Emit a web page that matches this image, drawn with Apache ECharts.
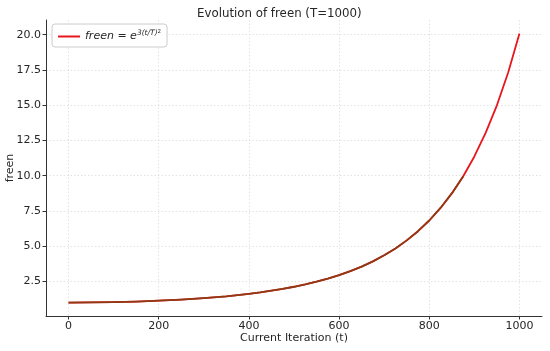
<!DOCTYPE html>
<html><head><meta charset="utf-8">
<script src="https://cdn.jsdelivr.net/npm/echarts@6/dist/echarts.min.js"></script>
<style>html,body{margin:0;padding:0;background:#fff}#c{width:550px;height:351px}</style>
</head><body><div id="c"></div>
<script>
// Data
const iterations = [0,50,100,150,200,250,300,350,400,425,450,475,500,525,550,575,600,625,650,675,700,725,750,775,800,825,850,875,900,925,950,975,1000];
const freenValues = [1.00,1.01,1.03,1.07,1.13,1.21,1.31,1.44,1.62,1.72,1.84,1.97,2.12,2.29,2.48,2.70,2.95,3.23,3.55,3.92,4.35,4.84,5.41,6.06,6.82,7.71,8.74,9.94,11.36,13.03,14.99,17.32,20.09];
const overlayEndIndex = 27; // brown overlay runs up to t≈875
const xTicks = [0,200,400,600,800,1000];
const yTicks = [2.5,5.0,7.5,10.0,12.5,15.0,17.5,20.0];
const titleText = 'Evolution of freen (T=1000)';
const xLabel = 'Current Iteration (t)';
const yLabel = 'freen';

const mainData = iterations.map((t,i)=>[t,freenValues[i]]);
const overlayData = mainData.slice(0, overlayEndIndex+1);
const FONT = 'DejaVu Sans';
const TXT = '#262626';

const chart = echarts.init(document.getElementById('c'), null, {renderer:'canvas'});
const gridLine = {show:true, lineStyle:{color:'#dcdcdc', type:[1.5,2], width:0.8}};
chart.setOption({
  animation:false,
  textStyle:{fontFamily:FONT},
  title:{text:titleText, left:192, top:3, textStyle:{fontFamily:FONT, fontSize:11.8, fontWeight:'normal', color:TXT}},
  grid:{left:46, right:8, top:20, bottom:35, containLabel:false, outerBoundsMode:'none'},
  legend:{
    left:52, top:24, orient:'vertical',
    padding:[5,6,5,6],
    itemWidth:22, itemHeight:2, itemGap:2,
    borderColor:'#cccccc', borderWidth:1, borderRadius:3, backgroundColor:'rgba(255,255,255,0.8)',
    data:[{name:'main', icon:'rect'}],
    formatter: () => '{i|freen} {n|=} {i|e}{s|3(t/T)}{ss|2}',
    textStyle:{fontFamily:FONT, color:TXT, fontSize:11,
      rich:{
        i:{fontStyle:'italic', fontSize:11, fontFamily:FONT, color:TXT},
        n:{fontSize:11, fontFamily:FONT, color:TXT},
        s:{fontStyle:'italic', fontSize:7.5, fontFamily:FONT, color:TXT, verticalAlign:'top', padding:[0,0,6,0]},
        ss:{fontSize:5.5, fontFamily:FONT, color:TXT, verticalAlign:'top', padding:[0,0,9,0]}
      }}
  },
  xAxis:{
    type:'value', min:-50, max:1050,
    name:xLabel, nameLocation:'middle', nameGap:17, nameMoveOverlap:false,
    nameTextStyle:{fontFamily:FONT, fontSize:11, color:TXT},
    axisLine:{show:true, onZero:false, lineStyle:{color:'#333', width:1}},
    axisTick:{show:true, length:3.5, customValues:xTicks, lineStyle:{color:'#333'}},
    axisLabel:{customValues:xTicks, fontFamily:FONT, fontSize:11, color:TXT, margin:5, formatter:v=>String(v)},
    splitLine:gridLine
  },
  yAxis:{
    type:'value', min:0.046, max:21.04,
    name:yLabel, nameLocation:'middle', nameGap:30, nameRotate:90, nameMoveOverlap:false,
    nameTextStyle:{fontFamily:FONT, fontSize:11, color:TXT},
    axisLine:{show:true, onZero:false, lineStyle:{color:'#333', width:1}},
    axisTick:{show:true, length:3.5, customValues:yTicks, lineStyle:{color:'#333'}},
    axisLabel:{customValues:yTicks, fontFamily:FONT, fontSize:11, color:TXT, margin:5, formatter:v=>v.toFixed(1)},
    splitLine:gridLine
  },
  series:[
    {name:'main', type:'line', data:mainData, smooth:false, showSymbol:false, color:'#e8161c',
     lineStyle:{color:'#e8161c', width:1.8, join:'round'}, z:3},
    {name:'overlay', type:'line', data:overlayData, smooth:false, showSymbol:false, color:'#8e3a14',
     lineStyle:{color:'#8e3a14', width:1.8, join:'round'}, z:4}
  ]
});
</script></body></html>
